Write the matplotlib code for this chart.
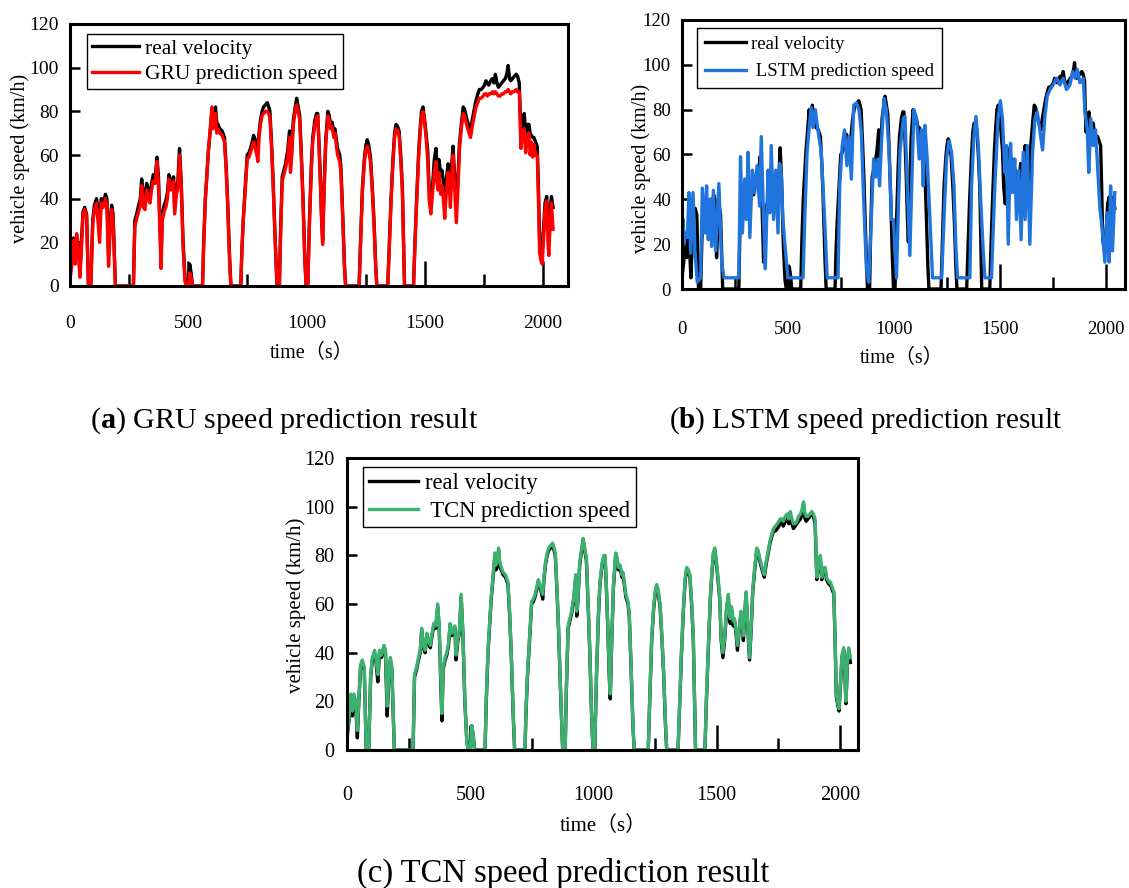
import matplotlib
matplotlib.use("Agg")
import matplotlib.pyplot as plt
from matplotlib.ticker import MultipleLocator

plt.rcParams['font.family'] = ['Liberation Serif', 'Noto Sans CJK SC']
plt.rcParams['mathtext.fontset'] = 'custom'
plt.rcParams['mathtext.rm'] = 'Liberation Serif'
plt.rcParams['mathtext.bf'] = 'Liberation Serif:bold'

# ---------------- data (time in s, speed in km/h) ----------------
TIME = [0, 8, 15, 22, 28, 35, 42, 48, 55, 62,
        70, 78, 88, 96, 103, 112, 118, 125, 132, 140,
        150, 156, 163, 170, 176, 182, 192, 268, 274, 282,
        290, 297, 303, 310, 317, 324, 331, 338, 345, 352,
        360, 368, 374, 380, 385, 390, 398, 405, 412, 418,
        425, 432, 438, 442, 450, 456, 463, 470, 478, 486,
        492, 500, 506, 512, 518, 560, 565, 572, 578, 585,
        592, 600, 604, 610, 615, 620, 626, 633, 643, 653,
        660, 666, 674, 680, 722, 726, 732, 736, 743, 749,
        756, 763, 770, 776, 783, 790, 794, 799, 805, 812,
        818, 826, 834, 840, 845, 852, 858, 866, 875, 885,
        890, 897, 904, 911, 920, 928, 932, 936, 944, 952,
        958, 963, 971, 978, 985, 992, 998, 1005, 1012, 1020,
        1026, 1035, 1042, 1047, 1052, 1058, 1064, 1068, 1074, 1081,
        1090, 1096, 1101, 1108, 1115, 1120, 1125, 1131, 1140, 1145,
        1152, 1160, 1165, 1222, 1228, 1236, 1244, 1250, 1256, 1262,
        1270, 1278, 1285, 1292, 1297, 1343, 1350, 1357, 1365, 1372,
        1378, 1385, 1391, 1398, 1405, 1410, 1414, 1452, 1458, 1466,
        1474, 1480, 1486, 1492, 1498, 1505, 1512, 1518, 1525, 1532,
        1540, 1547, 1551, 1555, 1559, 1563, 1567, 1572, 1578, 1584,
        1590, 1598, 1603, 1608, 1613, 1619, 1626, 1633, 1640, 1646,
        1654, 1662, 1668, 1676, 1684, 1693, 1700, 1709, 1716, 1724,
        1730, 1738, 1746, 1752, 1758, 1764, 1770, 1778, 1786, 1792,
        1798, 1805, 1811, 1818, 1825, 1832, 1840, 1846, 1852, 1858,
        1863, 1870, 1878, 1886, 1892, 1899, 1903, 1906, 1913, 1920,
        1926, 1933, 1940, 1945, 1950, 1956, 1961, 1968, 1975, 1980,
        1985, 1990, 1996, 2001, 2008, 2015, 2020, 2024, 2030, 2035, 2042]

REAL = [5, 12, 22, 14, 22, 19, 5, 20, 34, 36,
        33, 0, 0, 30, 37, 40, 36, 28, 40, 38,
        42, 40, 14, 30, 37, 33, 0, 0, 30, 33,
        37, 40, 49, 42, 40, 47, 44, 42, 47, 51,
        50, 59, 50, 30, 12, 33, 37, 39, 43, 51,
        47, 49, 50, 37, 45, 48, 63, 48, 20, 4,
        0, 0, 10, 6, 0, 0, 20, 40, 50, 62,
        70, 80, 74, 77, 82, 75, 74, 72, 71, 68,
        55, 40, 15, 0, 0, 15, 30, 37, 50, 60,
        61, 63, 66, 69, 67, 64, 62, 70, 76, 80,
        82, 83, 84, 82, 80, 65, 50, 25, 0, 0,
        25, 50, 53, 56, 62, 71, 55, 60, 76, 82,
        86, 83, 78, 60, 40, 15, 0, 0, 30, 55,
        68, 76, 79, 79, 67, 50, 30, 21, 45, 67,
        80, 78, 74, 75, 71, 72, 68, 63, 60, 55,
        35, 10, 0, 0, 20, 45, 58, 64, 67, 65,
        59, 45, 30, 10, 0, 0, 20, 40, 58, 70,
        74, 73, 71, 60, 45, 20, 0, 0, 20, 42,
        62, 72, 80, 82, 77, 70, 62, 45, 38, 45,
        58, 63, 54, 52, 58, 55, 51, 53, 48, 41,
        48, 56, 52, 45, 55, 64, 50, 37, 50, 65,
        74, 82, 81, 77, 74, 71, 76, 81, 85, 88,
        90, 90, 91, 92, 94, 93, 92, 94, 95, 93,
        97, 93, 91, 92, 93, 94, 95, 97, 101, 95,
        94, 95, 96, 97, 96, 93, 80, 70, 76, 79,
        70, 74, 74, 70, 69, 68, 68, 66, 64, 45,
        22, 19, 16, 25, 38, 41, 30, 19, 35, 41, 36]

GRU = [3, 10, 21, 10, 24, 17, 4, 16, 33, 35,
       32, 0, 0, 28, 35, 38, 30, 20, 38, 36,
       40, 36, 9, 26, 35, 30, 0, 0, 27, 31,
       34, 37, 46, 36, 35, 44, 40, 38, 44, 48,
       47, 57, 46, 25, 8, 30, 34, 36, 40, 49,
       44, 46, 48, 33, 42, 45, 60, 46, 18, 2,
       0, 0, 6, 4, 0, 0, 18, 39, 49, 62,
       71, 82, 72, 75, 79, 70, 72, 70, 69, 66,
       53, 38, 13, 0, 0, 14, 29, 36, 49, 58,
       59, 61, 64, 66, 63, 60, 57, 68, 74, 78,
       79, 80, 80, 79, 77, 63, 48, 24, 0, 0,
       23, 48, 51, 54, 59, 68, 52, 58, 74, 80,
       83, 81, 76, 58, 38, 13, 0, 0, 28, 53,
       66, 74, 77, 78, 65, 48, 28, 19, 43, 65,
       78, 76, 72, 73, 68, 70, 65, 60, 57, 52,
       33, 9, 0, 0, 18, 43, 56, 62, 64, 62,
       57, 43, 28, 9, 0, 0, 18, 38, 56, 68,
       72, 71, 69, 58, 43, 18, 0, 0, 18, 40,
       60, 70, 78, 80, 76, 68, 58, 40, 33, 42,
       52, 57, 48, 44, 52, 48, 42, 46, 40, 31,
       42, 52, 46, 36, 50, 60, 44, 29, 45, 62,
       72, 79, 78, 74, 71, 68, 73, 78, 82, 84,
       86, 86, 87, 88, 88, 87, 88, 88, 89, 88,
       89, 88, 87, 87, 88, 88, 89, 89, 90, 89,
       88, 89, 89, 90, 89, 89, 75, 63, 70, 72,
       61, 68, 70, 60, 66, 59, 65, 60, 60, 40,
       15, 12, 10, 20, 35, 39, 20, 14, 30, 38, 26]

TCN = [6, 13, 23, 16, 23, 20, 8, 21, 35, 37,
       34, 0, 0, 31, 38, 41, 37, 31, 41, 39,
       43, 41, 18, 31, 38, 34, 0, 0, 31, 34,
       38, 41, 50, 43, 41, 48, 45, 43, 48, 52,
       51, 60, 51, 32, 15, 34, 38, 40, 44, 52,
       48, 50, 51, 39, 46, 49, 64, 49, 21, 3,
       0, 0, 10, 6, 0, 0, 21, 41, 51, 63,
       71, 81, 76, 78, 83, 77, 75, 73, 72, 69,
       56, 41, 16, 0, 0, 16, 31, 38, 51, 61,
       62, 64, 67, 70, 68, 65, 64, 71, 77, 81,
       83, 84, 85, 83, 81, 66, 51, 26, 0, 0,
       26, 51, 54, 57, 63, 72, 57, 61, 77, 83,
       87, 84, 79, 61, 41, 16, 0, 0, 31, 56,
       69, 77, 80, 80, 68, 51, 31, 23, 46, 68,
       81, 79, 75, 76, 72, 73, 69, 64, 61, 56,
       36, 11, 0, 0, 21, 46, 59, 65, 68, 66,
       60, 46, 31, 11, 0, 0, 21, 41, 59, 71,
       75, 74, 72, 61, 46, 21, 0, 0, 21, 43,
       63, 73, 81, 83, 78, 71, 63, 46, 40, 46,
       59, 64, 56, 54, 59, 57, 53, 54, 49, 43,
       49, 57, 53, 47, 56, 65, 51, 38, 51, 66,
       75, 83, 82, 78, 75, 72, 77, 82, 86, 89,
       91, 92, 93, 94, 95, 95, 94, 96, 97, 95,
       98, 95, 93, 93, 94, 96, 97, 99, 102, 97,
       96, 96, 97, 98, 97, 95, 82, 71, 77, 80,
       71, 75, 75, 71, 70, 69, 69, 67, 65, 46,
       23, 20, 17, 26, 39, 42, 31, 20, 36, 42, 38]

LSTM_TIME = [0, 6, 8, 16, 25, 33, 41, 52, 61, 72,
             88, 96, 108, 116, 124, 132, 140, 148, 159, 174,
             187, 198, 268, 276, 285, 296, 304, 312, 320, 332,
             343, 354, 366, 374, 385, 393, 406, 414, 421, 432,
             442, 453, 461, 469, 476, 489, 500, 571, 579, 590,
             602, 610, 618, 629, 641, 657, 673, 685, 736, 744,
             756, 767, 778, 788, 799, 810, 823, 835, 846, 857,
             870, 881, 893, 904, 914, 925, 932, 942, 953, 964,
             977, 988, 997, 1012, 1028, 1044, 1052, 1063, 1075, 1088,
             1094, 1107, 1119, 1130, 1138, 1146, 1157, 1170, 1182, 1225,
             1236, 1248, 1259, 1272, 1283, 1292, 1300, 1358, 1366, 1377,
             1387, 1398, 1409, 1421, 1429, 1460, 1476, 1491, 1502, 1512,
             1523, 1531, 1539, 1550, 1559, 1570, 1578, 1589, 1600, 1610,
             1619, 1629, 1641, 1654, 1665, 1676, 1688, 1701, 1712, 1723,
             1736, 1751, 1767, 1783, 1799, 1814, 1830, 1843, 1854, 1865,
             1877, 1893, 1901, 1912, 1919, 1929, 1940, 1951, 1960, 1971,
             1984, 1995, 2006, 2015, 2022, 2031, 2042]

LSTM = [10, 31, 20, 25, 23, 43, 16, 43, 17, 3,
        5, 45, 25, 46, 22, 40, 19, 44, 17, 47,
        12, 5, 5, 59, 25, 49, 31, 61, 23, 53,
        43, 55, 37, 68, 31, 9, 53, 34, 64, 31,
        53, 25, 56, 50, 31, 16, 5, 5, 31, 61,
        74, 81, 72, 80, 71, 61, 31, 5, 5, 46,
        64, 71, 55, 68, 49, 82, 83, 80, 70, 40,
        9, 3, 31, 58, 50, 58, 46, 67, 85, 80,
        61, 31, 31, 5, 61, 76, 77, 46, 15, 61,
        80, 76, 58, 71, 46, 73, 58, 31, 5, 5,
        31, 58, 66, 61, 46, 19, 5, 5, 46, 68,
        77, 64, 40, 17, 5, 5, 46, 76, 84, 76,
        52, 64, 20, 65, 43, 58, 31, 53, 22, 61,
        31, 64, 20, 61, 76, 79, 71, 62, 77, 86,
        89, 91, 94, 91, 94, 89, 91, 97, 94, 98,
        92, 94, 79, 71, 52, 76, 64, 71, 56, 37,
        25, 12, 34, 12, 46, 17, 43]

YTICKS = [0, 20, 40, 60, 80, 100, 120]
XTICKS = [0, 500, 1000, 1500, 2000]

W, H = 1129, 888
fig = plt.figure(figsize=(W / 100, H / 100), dpi=100)


def box(l, r, t, b):
    return [l / W, 1 - b / H, (r - l) / W, (b - t) / H]


def style(ax, xmax, xpad, ypad, lsize):
    ax.set_xlim(0, xmax)
    ax.set_ylim(0, 120)
    ax.set_yticks(YTICKS)
    ax.set_xticks(XTICKS)
    ax.xaxis.set_minor_locator(MultipleLocator(250))
    for s in ax.spines.values():
        s.set_linewidth(2.2)
    ax.tick_params(axis='both', which='both', direction='in', top=False, right=False,
                   width=1.8, labelsize=lsize, colors='black')
    ax.tick_params(axis='x', which='major', length=18, pad=xpad)
    ax.tick_params(axis='x', which='minor', length=9)
    ax.tick_params(axis='y', which='major', length=7, pad=ypad)


def legend(ax, handles_labels, x, y, fs, spacing, bpad):
    lg = ax.legend(*handles_labels, loc='upper left', bbox_to_anchor=(x, y),
                   borderaxespad=0, fancybox=False, edgecolor='black', framealpha=1,
                   fontsize=fs, handlelength=2.2, handletextpad=0.3,
                   borderpad=bpad, labelspacing=spacing)
    lg.get_frame().set_linewidth(1.0)


LW = 2.4

# ---------- panel (a) GRU ----------
axa = fig.add_axes(box(70, 568, 24, 286))
la, = axa.plot(TIME, REAL, color='black', lw=LW)
ga, = axa.plot(TIME, GRU, color='#ff0000', lw=LW)
style(axa, 2105, 21, 8, 14)
legend(axa, ([la, ga], ['real velocity', 'GRU prediction speed']), 0.034, 0.962, 15.5, 0.25, 0.22)
fig.text(20 / W, 1 - 158 / H, 'vehicle speed (km/h)', rotation=90, ha='center', va='center', fontsize=14.5)
fig.text(312 / W, 1 - 353 / H, 'time（s）', ha='center', va='center', fontsize=14.5)
fig.text(284 / W, 1 - 421 / H, r'($\mathbf{a}$) GRU speed prediction result', ha='center', va='center', fontsize=21.7)

# ---------- panel (b) LSTM ----------
axb = fig.add_axes(box(682, 1125, 20, 289))
lb, = axb.plot(TIME, REAL, color='black', lw=LW)
gb, = axb.plot(LSTM_TIME, LSTM, color='#1f74dd', lw=LW)
style(axb, 2090, 23, 8, 13.5)
legend(axb, ([lb, gb], ['real velocity', ' LSTM prediction speed']), 0.034, 0.970, 13.5, 0.55, 0.4)
fig.text(641 / W, 1 - 168 / H, 'vehicle speed (km/h)', rotation=90, ha='center', va='center', fontsize=14.5)
fig.text(902 / W, 1 - 358 / H, 'time（s）', ha='center', va='center', fontsize=14.5)
fig.text(866 / W, 1 - 421 / H, r'($\mathbf{b}$) LSTM speed prediction result', ha='center', va='center', fontsize=21)

# ---------- panel (c) TCN ----------
axc = fig.add_axes(box(347, 858, 458, 750))
lc, = axc.plot(TIME, REAL, color='black', lw=LW)
gc, = axc.plot(TIME, TCN, color='#3bb06f', lw=LW)
style(axc, 2073, 26, 9, 14.5)
legend(axc, ([lc, gc], ['real velocity', ' TCN prediction speed']), 0.031, 0.969, 16.3, 0.3, 0.25)
fig.text(296 / W, 1 - 605 / H, 'vehicle speed (km/h)', rotation=90, ha='center', va='center', fontsize=15)
fig.text(603 / W, 1 - 826 / H, 'time（s）', ha='center', va='center', fontsize=15)
fig.text(563 / W, 1 - 873 / H, '(c) TCN speed prediction result', ha='center', va='center', fontsize=23.5)

fig.savefig('out.png', dpi=100)
